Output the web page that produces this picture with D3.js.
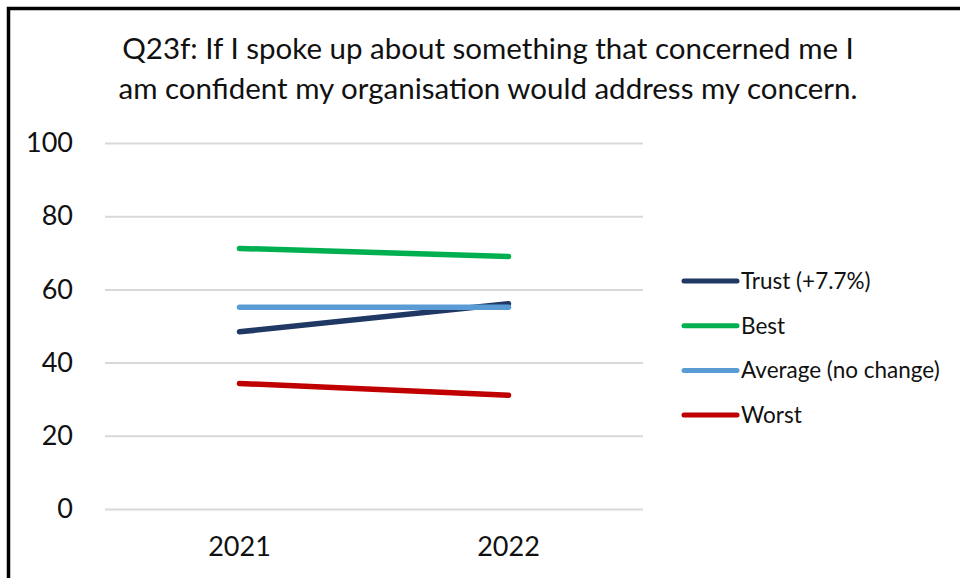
<!DOCTYPE html>
<html>
<head>
<meta charset="utf-8">
<script src="https://cdn.jsdelivr.net/npm/d3@7"></script>
<style>
  html, body { margin: 0; padding: 0; background: #fff; }
  svg { display: block; font-family: Lato, "Liberation Sans", sans-serif; }
</style>
</head>
<body>
<div id="chart"></div>
<script>
const titleLines = [
  'Q23f: If I spoke up about something that concerned me I',
  'am confident my organisation would address my concern.'
];
const years = ['2021', '2022'];
const yTicks = [0, 20, 40, 60, 80, 100];
const seriesNames = ['Trust (+7.7%)', 'Best', 'Average (no change)', 'Worst'];
const seriesColors = ['#1f3864', '#00b050', '#5b9bd5', '#c00000'];
const trust = [48.4, 56.1];
const best = [71.2, 69.0];
const average = [55.1, 55.1];
const worst = [34.3, 31.1];

const series = [trust, best, average, worst].map((vals, i) => ({
  name: seriesNames[i],
  color: seriesColors[i],
  values: vals.map((v, j) => ({ year: years[j], value: v }))
}));

const width = 960, height = 578;
const plot = { left: 105, right: 643, top: 143, bottom: 509 };

const svg = d3.select('#chart')
  .append('svg')
  .attr('width', width)
  .attr('height', height);

svg.append('rect')
  .attr('width', width).attr('height', height)
  .attr('fill', '#fff');

// frame, runs off the right and bottom edge
svg.append('rect')
  .attr('x', 8.5).attr('y', 8.5)
  .attr('width', width + 20).attr('height', height + 20)
  .attr('fill', 'none')
  .attr('stroke', '#000')
  .attr('stroke-width', 3.5);

svg.append('g')
  .selectAll('text')
  .data(titleLines)
  .join('text')
  .attr('x', 488)
  .attr('y', (d, i) => 59 + i * 40)
  .attr('text-anchor', 'middle')
  .attr('font-size', '29.5px')
  .attr('fill', '#111')
  .text(d => d);

const x = d3.scaleBand().domain(years).range([plot.left, plot.right]);
const y = d3.scaleLinear().domain([0, 100]).range([plot.bottom, plot.top]);

// gridlines + y labels
const yAxis = svg.append('g')
  .attr('transform', `translate(${plot.left},0)`)
  .call(d3.axisLeft(y).tickValues(yTicks).tickSize(-(plot.right - plot.left)).tickPadding(32));
yAxis.select('.domain').remove();
yAxis.selectAll('.tick line').attr('stroke', '#d9d9d9').attr('stroke-width', 2);
yAxis.selectAll('.tick text')
  .attr('font-size', '27px')
  .attr('font-family', 'Lato, "Liberation Sans", sans-serif')
  .attr('fill', '#111');

const xAxis = svg.append('g')
  .attr('transform', `translate(0,${plot.bottom})`)
  .call(d3.axisBottom(x).tickSize(0).tickPadding(28));
xAxis.select('.domain').remove();
xAxis.selectAll('.tick text')
  .attr('font-size', '27px')
  .attr('font-family', 'Lato, "Liberation Sans", sans-serif')
  .attr('fill', '#111');

const line = d3.line()
  .x(d => x(d.year) + x.bandwidth() / 2)
  .y(d => y(d.value));

svg.append('g')
  .selectAll('path')
  .data(series)
  .join('path')
  .attr('d', d => line(d.values))
  .attr('fill', 'none')
  .attr('stroke', d => d.color)
  .attr('stroke-width', 5.5)
  .attr('stroke-linecap', 'round');

const legend = svg.append('g')
  .selectAll('g')
  .data(series)
  .join('g')
  .attr('transform', (d, i) => `translate(684,${281 + i * 44.7})`);

legend.append('line')
  .attr('x1', 0).attr('x2', 53)
  .attr('stroke', d => d.color)
  .attr('stroke-width', 5)
  .attr('stroke-linecap', 'round');

legend.append('text')
  .attr('x', 57)
  .attr('dy', '0.35em')
  .attr('font-size', '22.5px')
  .attr('fill', '#111')
  .text(d => d.name);
</script>
</body>
</html>
